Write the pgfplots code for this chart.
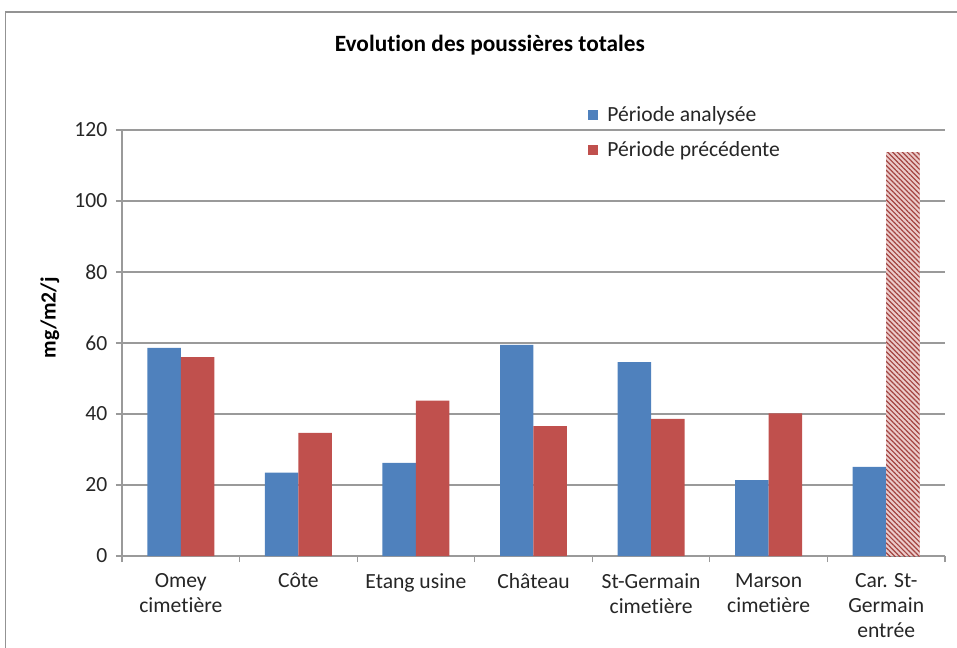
\documentclass[border=0pt]{standalone}
\usepackage{fontspec}
\setmainfont{Carlito}[Ligatures=NoCommon]
\usepackage{pgfplots}
\pgfplotsset{compat=1.18}
\usetikzlibrary{patterns.meta}
\definecolor{cblue}{HTML}{4F81BD}
\definecolor{cred}{HTML}{C0504D}
\definecolor{cgrid}{HTML}{9A9A9A}
\definecolor{ctext}{HTML}{262626}
\pgfplotsset{sqlegend/.style={legend image code/.code={\fill[##1] (-2pt,-3.75pt) rectangle (5.5pt,3.75pt); \path (-2pt,0pt) (10.5pt,0pt);}}}
\begin{document}
\begin{tikzpicture}
\useasboundingbox (0pt,0pt) rectangle (717.75pt,485.25pt);
\draw[color=gray!85, line width=1.1pt] (4.1pt,-15pt) rectangle (740pt,476.25pt);
\begin{axis}[
  at={(91.5pt,68.25pt)}, anchor=south west,
  scale only axis, width=617.25pt, height=319.5pt,
  ymin=0, ymax=120, ytick={0,20,...,120},
  xmin=-0.5, xmax=6.5,
  xtick={-0.5,0.5,...,6.5},
  x tick label as interval,
  xticklabels={Omey\\cimetière,Côte,Etang usine,Château,St-Germain\\cimetière,Marson\\cimetière,Car. St-\\Germain\\entrée},
  /pgf/number format/assume math mode=true,
  ticklabel style={font=\fontsize{16.2}{18.75}\selectfont, text=ctext},
  yticklabel style={xshift=-3pt},
  xticklabel style={align=center, anchor=north, yshift=-5pt},
  tick align=outside, tick pos=left, major tick length=4.5pt,
  axis x line*=bottom, axis y line*=left,
  axis line style={cgrid, -, line width=0.8pt},
  tick style={cgrid, line width=0.8pt},
  ymajorgrids, grid style={cgrid, line width=0.8pt},
  ybar=0pt, bar width=25.1pt,
  title={Evolution des poussières totales},
  title style={at={(axis description cs:0.447,1.18)}, anchor=center, font=\bfseries\fontsize{17.5}{20}\selectfont, text=black},
  ylabel={mg/m2/j},
  ylabel style={at={(axis description cs:-0.0875,0.559)}, anchor=center, font=\bfseries\fontsize{16.2}{19}\selectfont, text=black},
  legend style={at={(rel axis cs:0.566,1.063)}, anchor=north west, draw=none, fill=none,
    font=\fontsize{16.2}{19}\selectfont, text=ctext, row sep=10pt, inner sep=0pt},
  legend cell align=left,
]
\addplot[draw=none, fill=cblue, bar shift=-12.55pt, sqlegend] coordinates {(0,58.6) (1,23.5) (2,26.2) (3,59.5) (4,54.6) (5,21.4) (6,25.1)};
\addplot[draw=none, fill=cred, bar shift=12.55pt, sqlegend] coordinates {(0,56.0) (1,34.7) (2,43.8) (3,36.6) (4,38.6) (5,40.2)};
\addplot[forget plot, draw=none, fill=cred!30!white, bar shift=12.55pt,
  postaction={pattern={Lines[angle=-45,distance=2.6pt,line width=0.9pt]}, pattern color=cred!85!black}] coordinates {(6,113.8)};
\legend{Période analysée, Période précédente}
\end{axis}
\end{tikzpicture}
\end{document}
